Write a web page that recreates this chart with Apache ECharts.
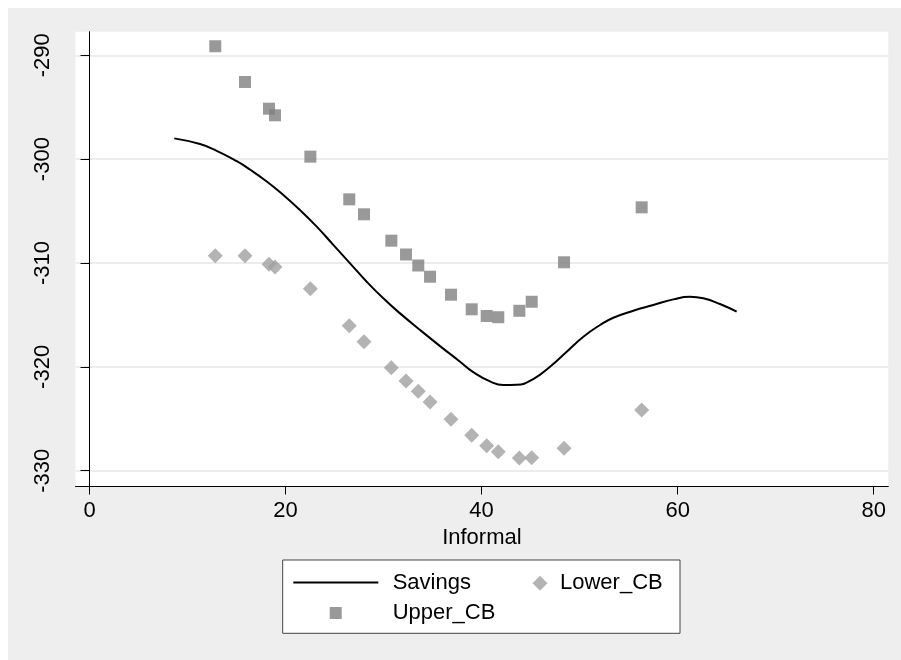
<!DOCTYPE html>
<html>
<head>
<meta charset="utf-8">
<script src="https://cdn.jsdelivr.net/npm/echarts@6/dist/echarts.min.js"></script>
<style>
  html, body { margin: 0; padding: 0; background: #eeeeee; overflow: hidden; }
  #chart { position: absolute; left: 0; top: 0; width: 901px; height: 660px; }
</style>
</head>
<body>
<div id="chart"></div>
<script>
// ---- data ----
const ciX = [12.83, 15.86, 18.31, 18.92, 22.53, 26.50, 28.00, 30.79, 32.29, 33.54, 34.74, 36.88, 38.99, 40.52, 41.70, 43.85, 45.11, 48.41, 56.33];
const upperCB = [-289.13, -292.57, -295.14, -295.78, -299.76, -303.87, -305.31, -307.85, -309.18, -310.24, -311.32, -313.05, -314.46, -315.10, -315.22, -314.60, -313.73, -309.93, -304.64];
const lowerCB = [-309.30, -309.30, -310.13, -310.39, -312.47, -316.04, -317.58, -320.08, -321.36, -322.35, -323.38, -325.05, -326.59, -327.59, -328.17, -328.78, -328.75, -327.84, -324.16];

const savingsX = [8.65, 11.27, 12.98, 15.02, 16.37, 18.08, 19.77, 21.47, 23.18, 24.87, 26.58, 28.28, 29.97, 31.68, 33.72, 35.76, 37.80, 39.15, 40.86, 42.21, 43.58, 45.27, 46.98, 48.68, 50.38, 52.08, 53.44, 55.48, 57.52, 59.56, 61.26, 62.62, 64.32, 66.02];
const savingsY = [-298.0, -298.55, -299.2, -300.2, -301.0, -302.15, -303.45, -304.9, -306.5, -308.25, -310.03, -311.8, -313.4, -314.85, -316.45, -318.0, -319.5, -320.5, -321.4, -321.75, -321.72, -321.17, -319.98, -318.54, -317.1, -315.97, -315.27, -314.6, -314.05, -313.5, -313.25, -313.4, -313.95, -314.69];

const xTicks = [0, 20, 40, 60, 80];
const yTicks = [-330, -320, -310, -300, -290];
const seriesNames = ['Savings', 'Lower_CB', 'Upper_CB'];
const xTitle = 'Informal';

// ---- chart ----
const FONT = 'Liberation Sans, Arial, sans-serif';
const zip = (a, b) => a.map((v, i) => [v, b[i]]);

const chart = echarts.init(document.getElementById('chart'), null, { renderer: 'canvas', width: 901, height: 660 });
chart.setOption({
  animation: false,
  backgroundColor: '#eeeeee',
  grid: {
    show: true, backgroundColor: '#ffffff', borderWidth: 0,
    left: 75.5, top: 31.7, right: 12.7, bottom: 174
  },
  xAxis: {
    type: 'value', min: -1.43, max: 81.49,
    name: xTitle, nameLocation: 'middle', nameGap: 37,
    nameTextStyle: { fontSize: 22, color: '#000', fontFamily: FONT },
    axisLine: { show: true, lineStyle: { color: '#000', width: 1 } },
    axisTick: { show: true, customValues: xTicks, length: 8.5, lineStyle: { color: '#000', width: 1 } },
    axisLabel: { customValues: xTicks, fontSize: 22, color: '#000', fontFamily: FONT, margin: 14 },
    splitLine: { show: false }
  },
  yAxis: {
    type: 'value', min: -331.47, max: -287.73,
    axisLine: { show: true, lineStyle: { color: '#000', width: 1 } },
    axisTick: { show: true, customValues: yTicks, length: 9, lineStyle: { color: '#000', width: 1 } },
    axisLabel: { customValues: yTicks, rotate: 90, fontSize: 22, color: '#000', fontFamily: FONT, margin: 22 },
    splitLine: { show: true, lineStyle: { color: '#e6e6e6', width: 1.5 } }
  },
  legend: [
    {
      data: [seriesNames[0]], selectedMode: false, padding: 0, icon: 'rect',
      left: 293.3, top: 571.5, itemWidth: 85, itemHeight: 2,
      itemStyle: { color: '#000' },
      textStyle: { fontSize: 22, color: '#000', fontFamily: FONT, padding: [0, 0, 0, 9.4] }
    },
    {
      data: [seriesNames[1]], selectedMode: false, padding: 0, icon: 'diamond',
      left: 532.5, top: 572.2, itemWidth: 15, itemHeight: 15,
      textStyle: { fontSize: 22, color: '#000', fontFamily: FONT, padding: [0, 0, 0, 7.5] }
    },
    {
      data: [seriesNames[2]], selectedMode: false, padding: 0, icon: 'rect',
      left: 329.7, top: 602, itemWidth: 12, itemHeight: 12,
      textStyle: { fontSize: 22, color: '#000', fontFamily: FONT, padding: [0, 0, 0, 46] }
    }
  ],
  graphic: [
    { type: 'rect', z: -1, silent: true, shape: { x: 0, y: 0, width: 901, height: 8 }, style: { fill: '#ffffff' } },
    { type: 'rect', z: -1, silent: true, shape: { x: 0, y: 0, width: 8, height: 660 }, style: { fill: '#ffffff' } },
    {
      type: 'rect', z: -1, silent: true,
      shape: { x: 282.7, y: 560, width: 397.3, height: 73.3 },
      style: { fill: '#ffffff', stroke: '#444444', lineWidth: 1 }
    }
  ],
  series: [
    {
      name: seriesNames[0], type: 'line', data: zip(savingsX, savingsY),
      symbol: 'none', showSymbol: false, smooth: 0.5,
      lineStyle: { color: '#000', width: 2 }, itemStyle: { color: '#000' }, z: 3
    },
    {
      name: seriesNames[1], type: 'scatter', data: zip(ciX, lowerCB),
      symbol: 'diamond', symbolSize: 15, itemStyle: { color: '#a0a0a0' }
    },
    {
      name: seriesNames[2], type: 'scatter', data: zip(ciX, upperCB),
      symbol: 'rect', symbolSize: 12, itemStyle: { color: '#808080' }
    }
  ]
});
</script>
</body>
</html>
